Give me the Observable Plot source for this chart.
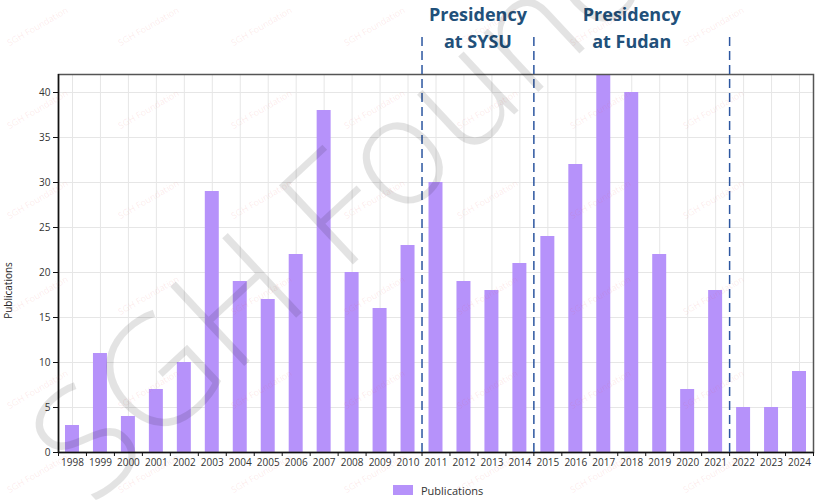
<!DOCTYPE html>
<html>
<head>
<meta charset="utf-8">
<script src="https://cdn.jsdelivr.net/npm/d3@7"></script>
<script src="https://cdn.jsdelivr.net/npm/@observablehq/plot@0.6"></script>
<style>
  html, body { margin: 0; padding: 0; background: #fff; }
  #wrap { position: relative; width: 815px; height: 502px; overflow: hidden; font-family: "Open Sans", "Noto Sans", sans-serif; }
  #legend { display: flex; align-items: center; padding-left: 393px; height: 24px; font-size: 11px; color: #333; }
  #legend .sw { width: 20px; height: 10px; margin-right: 8px; }
  #wm { position: absolute; left: 0; top: 0; pointer-events: none; }
</style>
</head>
<body>
<div id="wrap">
  <div id="chart"></div>
  <div id="legend"><span class="sw"></span><span id="legendText"></span></div>
  <svg id="wm" width="815" height="502"></svg>
</div>
<script>
// ---- data ----
const years = [1998, 1999, 2000, 2001, 2002, 2003, 2004, 2005, 2006, 2007, 2008, 2009, 2010,
               2011, 2012, 2013, 2014, 2015, 2016, 2017, 2018, 2019, 2020, 2021, 2022, 2023, 2024];
const publications = [3, 11, 4, 7, 10, 29, 19, 17, 22, 38, 20, 16, 23,
                      30, 19, 18, 21, 24, 32, 42, 40, 22, 7, 18, 5, 5, 9];
const yTicks = [0, 5, 10, 15, 20, 25, 30, 35, 40];
const periodLabels = ["Presidency\nat SYSU", "Presidency\nat Fudan"];
const periodStart = [2011, 2015];
const periodEnd = [2014, 2021];
const seriesName = "Publications";
const yLabel = "Publications";
const watermarkText = "SGH Foundation";

// ---- build tables ----
const barColor = "#b692fa";
const data = years.map((year, i) => ({year, count: publications[i]}));
const periods = periodLabels.map((label, i) => ({label, start: periodStart[i] - 0.5, end: periodEnd[i] + 0.5}));
const dividers = Array.from(new Set(periods.flatMap(p => [p.start, p.end])));
const boundaries = [years[0] - 0.5, ...years.map(y => y + 0.5)];

const chart = Plot.plot({
  width: 815,
  height: 478,
  marginLeft: 58,
  marginRight: 2,
  marginTop: 74,
  marginBottom: 26,
  style: {fontFamily: "'Open Sans', 'Noto Sans', sans-serif", fontSize: "10px", color: "#333", background: "transparent"},
  x: {type: "linear", domain: [years[0] - 0.5, years[years.length - 1] + 0.5]},
  y: {domain: [0, 42]},
  marks: [
    Plot.ruleY(yTicks.slice(1), {stroke: "#e6e6e6", strokeWidth: 1}),
    Plot.ruleX(years, {y1: 0, y2: 42, stroke: "#e6e6e6", strokeWidth: 1}),
    Plot.rectY(data, {x1: d => d.year - 0.25, x2: d => d.year + 0.25, y: "count", fill: barColor}),
    Plot.frame({stroke: "#555", strokeWidth: 1.5}),
    Plot.ruleY([0], {stroke: "#111", strokeWidth: 1.5}),
    Plot.ruleX([years[0] - 0.5], {stroke: "#111", strokeWidth: 1.5}),
    Plot.axisY({ticks: yTicks, tickSize: 5, tickPadding: 3, label: null, stroke: "#111", fill: "#333"}),
    Plot.axisX({ticks: years, tickSize: 0, tickPadding: 6, tickFormat: d => String(d), label: null, fill: "#333"}),
    Plot.axisX({ticks: boundaries, tickSize: 4, tickFormat: () => "", label: null, stroke: "#111"}),
    Plot.ruleX(dividers, {y1: 0, y2: 46.1, stroke: "#2c56a0", strokeWidth: 1.5, strokeDasharray: "9,5"}),
    Plot.text(periods, {
      x: d => (d.start + d.end) / 2, y: () => 45, text: "label",
      lineAnchor: "bottom", lineHeight: 1.5, fontSize: 18, fontWeight: "bold",
      fill: "#21507a", textAnchor: "middle"
    }),
    Plot.text([yLabel], {frameAnchor: "left", dx: -50, y: () => 18, text: d => d, rotate: -90, fontSize: 10, fill: "#222", textAnchor: "middle"})
  ]
});
document.getElementById("chart").appendChild(chart);

document.querySelector("#legend .sw").style.background = barColor;
document.getElementById("legendText").textContent = seriesName;

// ---- watermark ----
const wm = d3.select("#wm");
const cols = [38, 149, 262, 375, 488, 601, 714];
const rows = [27, 110, 200, 296, 390, 474];
for (const cy of rows) for (const cx of cols) {
  wm.append("text").attr("x", cx).attr("y", cy)
    .attr("transform", `rotate(-30 ${cx} ${cy})`)
    .attr("text-anchor", "middle").attr("dominant-baseline", "middle")
    .attr("font-family", "'Open Sans', sans-serif").attr("font-size", 9)
    .attr("fill", "rgba(235,90,90,0.13)").text(watermarkText);
}
wm.append("text").attr("x", 92).attr("y", 508)
  .attr("transform", "rotate(-43 92 508)")
  .attr("font-family", "'Open Sans', sans-serif").attr("font-weight", 300).attr("font-size", 152)
  .attr("fill", "rgba(0,0,0,0.11)").text(watermarkText);
</script>
</body>
</html>
